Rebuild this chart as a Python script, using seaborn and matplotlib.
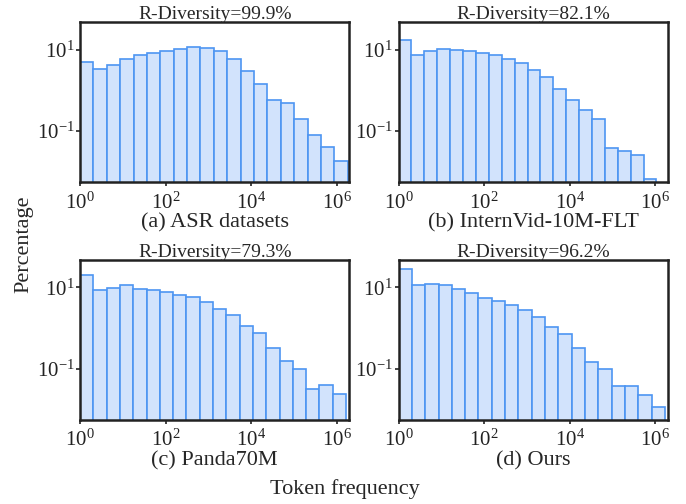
import numpy as np
import pandas as pd
import matplotlib
matplotlib.use("Agg")
import matplotlib.pyplot as plt
import seaborn as sns
from matplotlib.ticker import NullLocator

# ---- data (percentage of tokens per log-spaced frequency bin) ----
titles = ["R-Diversity=99.9%", "R-Diversity=82.1%", "R-Diversity=79.3%", "R-Diversity=96.2%"]
names = ["(a) ASR datasets", "(b) InternVid-10M-FLT", "(c) Panda70M", "(d) Ours"]
max_log_freq = [6.26, 6.03, 6.22, 6.23]

asr = [5.1, 3.5, 4.4, 6.2, 7.8, 8.7, 9.8, 10.6, 12.1, 11.6,
       9.3, 5.9, 3.0, 1.41, 0.575, 0.476, 0.191, 0.0766, 0.0394, 0.0174]
internvid = [17.7, 7.8, 9.6, 10.8, 10.0, 9.6, 8.7, 7.5, 6.2, 4.7,
             3.3, 2.1, 1.1, 0.59, 0.325, 0.191, 0.0365, 0.0307, 0.0245, 0.0062]
panda = [19.7, 8.4, 9.4, 11.2, 9.1, 8.4, 7.8, 6.5, 5.8, 4.3,
         2.9, 2.1, 1.14, 0.74, 0.322, 0.160, 0.102, 0.0316, 0.0396, 0.0238]
ours = [28.2, 11.4, 12.1, 11.2, 8.9, 7.4, 5.5, 4.6, 3.7, 2.8,
        1.86, 1.06, 0.70, 0.335, 0.151, 0.102, 0.0389, 0.0389, 0.0225, 0.0114]
series = [asr, internvid, panda, ours]

sns.set_theme(style="white")
plt.rcParams["font.family"] = ["Liberation Serif", "DejaVu Serif"]
plt.rcParams["mathtext.fontset"] = "stix"

fig, axes = plt.subplots(2, 2, figsize=(6.86, 5.04), dpi=100)
fig.subplots_adjust(left=0.1166, right=0.9738, top=0.9563, bottom=0.1667,
                    wspace=0.182, hspace=0.48)

ylims = [(10 ** -2.29, 10 ** 1.70), (10 ** -2.29, 10 ** 1.70),
         (10 ** -2.25, 10 ** 1.68), (10 ** -2.25, 10 ** 1.68)]

for i, ax in enumerate(axes.flat):
    vals = series[i]
    n = len(vals)
    edges_log = np.linspace(0, max_log_freq[i], n + 1)
    centers = 10 ** ((edges_log[:-1] + edges_log[1:]) / 2)
    df = pd.DataFrame({"freq": centers, "pct": vals})
    ax.set_yscale("log", nonpositive="clip")
    sns.histplot(data=df, x="freq", weights="pct", bins=n,
                 binrange=(0, max_log_freq[i]),
                 log_scale=True, stat="count", ax=ax,
                 facecolor="#d2e3fc", edgecolor="#4d95f2",
                 linewidth=1.2, alpha=1.0)
    ax.set_xlim(1, 10 ** 6.3)
    ax.set_ylim(*ylims[i])
    ax.set_title(titles[i], fontsize=14, pad=2)
    ax.set_xlabel(names[i], fontsize=16, labelpad=0)
    ax.set_ylabel("")
    ax.set_xticks([1, 1e2, 1e4, 1e6])
    ax.set_yticks([1e-1, 1e1])
    ax.xaxis.set_minor_locator(NullLocator())
    ax.yaxis.set_minor_locator(NullLocator())
    ax.tick_params(axis="both", which="major", direction="out", length=3,
                   width=1.2, colors="#222222", labelsize=15, pad=1,
                   bottom=True, left=True)
    ax.tick_params(axis="x", pad=4)
    for sp in ax.spines.values():
        sp.set_linewidth(1.8)
        sp.set_color("#222222")

fig.text(0.035, 0.515, "Percentage", rotation=90, ha="center", va="center", fontsize=16)
fig.text(0.503, 0.030, "Token frequency", ha="center", va="center", fontsize=16)

fig.savefig("out.png", dpi=100)
